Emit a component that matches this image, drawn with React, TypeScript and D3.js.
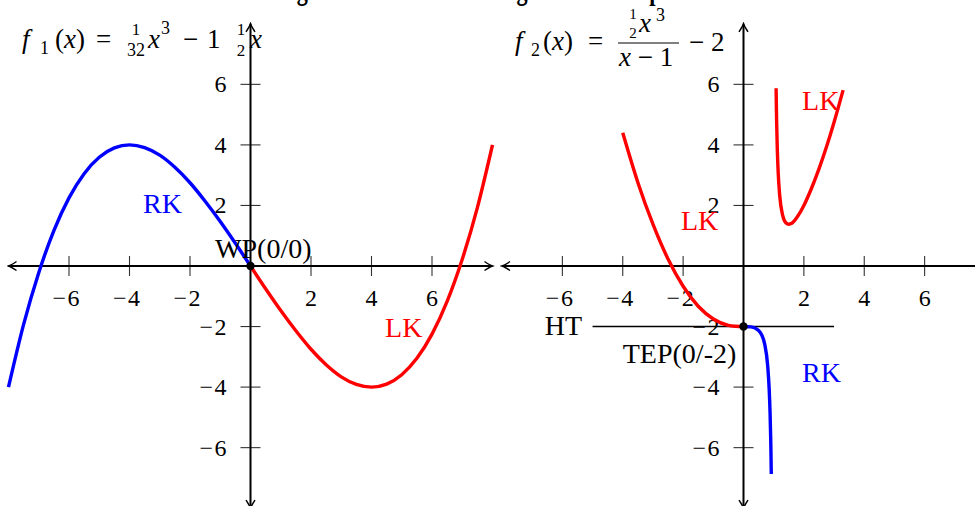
import * as React from "react";
import * as d3 from "d3";

// tick values on both axes of both panels (0 is left out, like the original)
const tickValues = [-6, -4, -2, 2, 4, 6];

// f1(x) = 1/32 x^3 - 1.5x
const f1Rk: [number, number][] = [
  [-8, -4], [-7.5, -1.93], [-7, -0.22], [-6.5, 1.17], [-6, 2.25], [-5.5, 3.05],
  [-5, 3.59], [-4.5, 3.9], [-4, 4], [-3.5, 3.91], [-3, 3.66], [-2.5, 3.26],
  [-2, 2.75], [-1.5, 2.14], [-1, 1.47], [-0.5, 0.75], [0, 0],
];
const f1Lk: [number, number][] = [
  [0, 0], [0.5, -0.75], [1, -1.47], [1.5, -2.14], [2, -2.75], [2.5, -3.26],
  [3, -3.66], [3.5, -3.91], [4, -4], [4.5, -3.9], [5, -3.59], [5.5, -3.05],
  [6, -2.25], [6.5, -1.17], [7, 0.22], [7.5, 1.93], [8, 4],
];

// f2(x) = (1/2 x^3)/(x-1) - 2
const f2LkLeft: [number, number][] = [
  [-4, 4.4], [-3.5, 2.76], [-3, 1.38], [-2.5, 0.23], [-2, -0.67], [-1.5, -1.33],
  [-1, -1.75], [-0.5, -1.96], [-0.25, -1.99], [0, -2],
];
const f2Rk: [number, number][] = [
  [0, -2], [0.25, -2.01], [0.5, -2.13], [0.6, -2.27], [0.7, -2.57], [0.8, -3.28],
  [0.85, -4.05], [0.88, -4.84], [0.9, -5.65], [0.91, -6.19], [0.92, -6.87],
];
const f2LkRight: [number, number][] = [
  [1.08, 5.87], [1.09, 5.19], [1.1, 4.66], [1.12, 3.85], [1.15, 3.07], [1.2, 2.32],
  [1.3, 1.66], [1.4, 1.43], [1.5, 1.38], [1.6, 1.41], [1.8, 1.65], [2, 2],
  [2.25, 2.56], [2.5, 3.21], [2.75, 3.94], [3, 4.75], [3.3, 5.81],
];

// horizontal tangent of f2 at the terrace point
const htLine: [number, number][] = [[-5, -2], [3, -2]];

const W = 975;
const H = 506;
const FONT = "'Liberation Serif', 'DejaVu Serif', serif";
const RED = "#ff0000";
const BLUE = "#0000ff";

const xL = d3.scaleLinear().domain([-8, 8]).range([8.5, 492.5]);
const xR = d3.scaleLinear().domain([-8, 8]).range([502, 985]);
const y = d3.scaleLinear().domain([-8, 8]).range([508.2, 23.8]);

const tickText = (t: number) =>
  t < 0 ? <>{"\u2212"}<tspan dx={1.5}>{Math.abs(t)}</tspan></> : <>{t}</>;

function Axes({ x }: { x: d3.ScaleLinear<number, number> }) {
  const x0 = x(0);
  const y0 = y(0);
  return (
    <g>
      {tickValues.map((t) => (
        <g key={"x" + t}>
          <line x1={x(t)} x2={x(t)} y1={y0 - 10} y2={y0 + 10} stroke="#333" strokeWidth={1.1} />
          <text x={x(t) - (t < 0 ? 3 : 0)} y={y0 + 40} textAnchor="middle" fontSize={24} fontFamily={FONT}>
            {tickText(t)}
          </text>
        </g>
      ))}
      {tickValues.map((t) => (
        <g key={"y" + t}>
          <line x1={x0 - 10} x2={x0 + 10} y1={y(t)} y2={y(t)} stroke="#333" strokeWidth={1.1} />
          <text x={x0 - 24} y={y(t) + 8} textAnchor="end" fontSize={24} fontFamily={FONT}>
            {tickText(t)}
          </text>
        </g>
      ))}
      <line x1={x(-8)} x2={x(8)} y1={y0} y2={y0} stroke="#000" strokeWidth={2}
        markerStart="url(#arr)" markerEnd="url(#arr)" />
      <line x1={x0} x2={x0} y1={y(-8)} y2={y(8)} stroke="#000" strokeWidth={2}
        markerStart="url(#arr)" markerEnd="url(#arr)" />
    </g>
  );
}

const App = () => {
  const lineL = d3.line<[number, number]>()
    .x((d) => xL(d[0]))
    .y((d) => y(d[1]))
    .curve(d3.curveMonotoneX);
  const lineR = d3.line<[number, number]>()
    .x((d) => xR(d[0]))
    .y((d) => y(d[1]))
    .curve(d3.curveMonotoneX);

  const label = (txt: string, px: number, py: number, color: string, size = 28) => (
    <text x={px} y={py} fill={color} fontSize={size} fontFamily={FONT}>{txt}</text>
  );

  return (
    <svg width={W} height={H} style={{ position: "absolute", left: 0, top: 0, background: "#fff" }}>
      <defs>
        <marker id="arr" viewBox="-10 -6 12 12" refX={0} refY={0} markerWidth={12} markerHeight={12}
          markerUnits="userSpaceOnUse" orient="auto-start-reverse">
          <path d="M-8,-4.5 Q-2.5,-0.8 0,0 Q-2.5,0.8 -8,4.5" fill="none" stroke="#000" strokeWidth={1.5} />
        </marker>
      </defs>

      {/* title, cut off at the top edge: only descenders stay visible */}
      <text x={146} y={-1.5} fontSize={32} fontWeight="bold" fontFamily={FONT}
        textLength={560} lengthAdjust="spacingAndGlyphs">
        Linkskrümmung und Rechtskrümmung an zwei Beispielen
      </text>

      {/* left panel */}
      <Axes x={xL} />
      <path d={lineL(f1Rk) ?? ""} fill="none" stroke={BLUE} strokeWidth={3.4} />
      <path d={lineL(f1Lk) ?? ""} fill="none" stroke={RED} strokeWidth={3.4} />
      <circle cx={xL(0)} cy={y(0)} r={4.2} fill="#000" />
      {label("RK", xL(-3.55), y(1.75), BLUE)}
      {label("LK", xL(4.45), y(-2.35), RED)}
      {label("WP(0/0)", xL(-1.17), y(0.26), "#000")}

      {/* right panel */}
      <Axes x={xR} />
      <path d={lineR(htLine) ?? ""} fill="none" stroke="#000" strokeWidth={1.6} />
      <path d={lineR(f2LkLeft) ?? ""} fill="none" stroke={RED} strokeWidth={3.4} />
      <path d={lineR(f2Rk) ?? ""} fill="none" stroke={BLUE} strokeWidth={3.4} />
      <path d={lineR(f2LkRight) ?? ""} fill="none" stroke={RED} strokeWidth={3.4} />
      <circle cx={xR(0)} cy={y(-2)} r={4.2} fill="#000" />
      {label("LK", xR(-2.07), y(1.19), RED)}
      {label("LK", xR(1.94), y(5.15), RED)}
      {label("RK", xR(1.94), y(-3.83), BLUE)}
      {label("HT", xR(-6.58), y(-2.28), "#000")}
      {label("TEP(0/-2)", xR(-4.0), y(-3.2), "#000")}

      {/* formula f1 */}
      <g fontFamily={FONT} fill="#000">
        <text x={22} y={48} fontSize={27} fontStyle="italic">f</text>
        <text x={40} y={54} fontSize={18}>1</text>
        <text x={55} y={48} fontSize={27}>(<tspan fontStyle="italic">x</tspan>)</text>
        <text x={96} y={48} fontSize={27}>=</text>
        <text x={136} y={35} fontSize={17} textAnchor="middle">1</text>
        <text x={136} y={56} fontSize={18} textAnchor="middle">32</text>
        <text x={148} y={48} fontSize={27} fontStyle="italic">x</text>
        <text x={161} y={34} fontSize={18}>3</text>
        <text x={183} y={48} fontSize={27}>{"\u2212"}</text>
        <text x={207} y={48} fontSize={27}>1</text>
        <text x={241} y={35} fontSize={17} textAnchor="middle">1</text>
        <text x={241} y={56} fontSize={17} textAnchor="middle">2</text>
        <text x={250} y={48} fontSize={27} fontStyle="italic">x</text>
      </g>

      {/* formula f2 */}
      <g fontFamily={FONT} fill="#000">
        <text x={515} y={50} fontSize={27} fontStyle="italic">f</text>
        <text x={531} y={56} fontSize={18}>2</text>
        <text x={543} y={50} fontSize={27}>(<tspan fontStyle="italic">x</tspan>)</text>
        <text x={588} y={50} fontSize={27}>=</text>
        <text x={633} y={19} fontSize={15} textAnchor="middle">1</text>
        <text x={633} y={38} fontSize={15} textAnchor="middle">2</text>
        <text x={639} y={32} fontSize={27} fontStyle="italic">x</text>
        <text x={656} y={21} fontSize={18}>3</text>
        <line x1={618} x2={679} y1={43} y2={43} stroke="#000" strokeWidth={1} />
        <text x={619} y={66} fontSize={27}><tspan fontStyle="italic">x</tspan>{" \u2212 1"}</text>
        <text x={689} y={51} fontSize={27}>{"\u2212 2"}</text>
      </g>
    </svg>
  );
};

export default App;
